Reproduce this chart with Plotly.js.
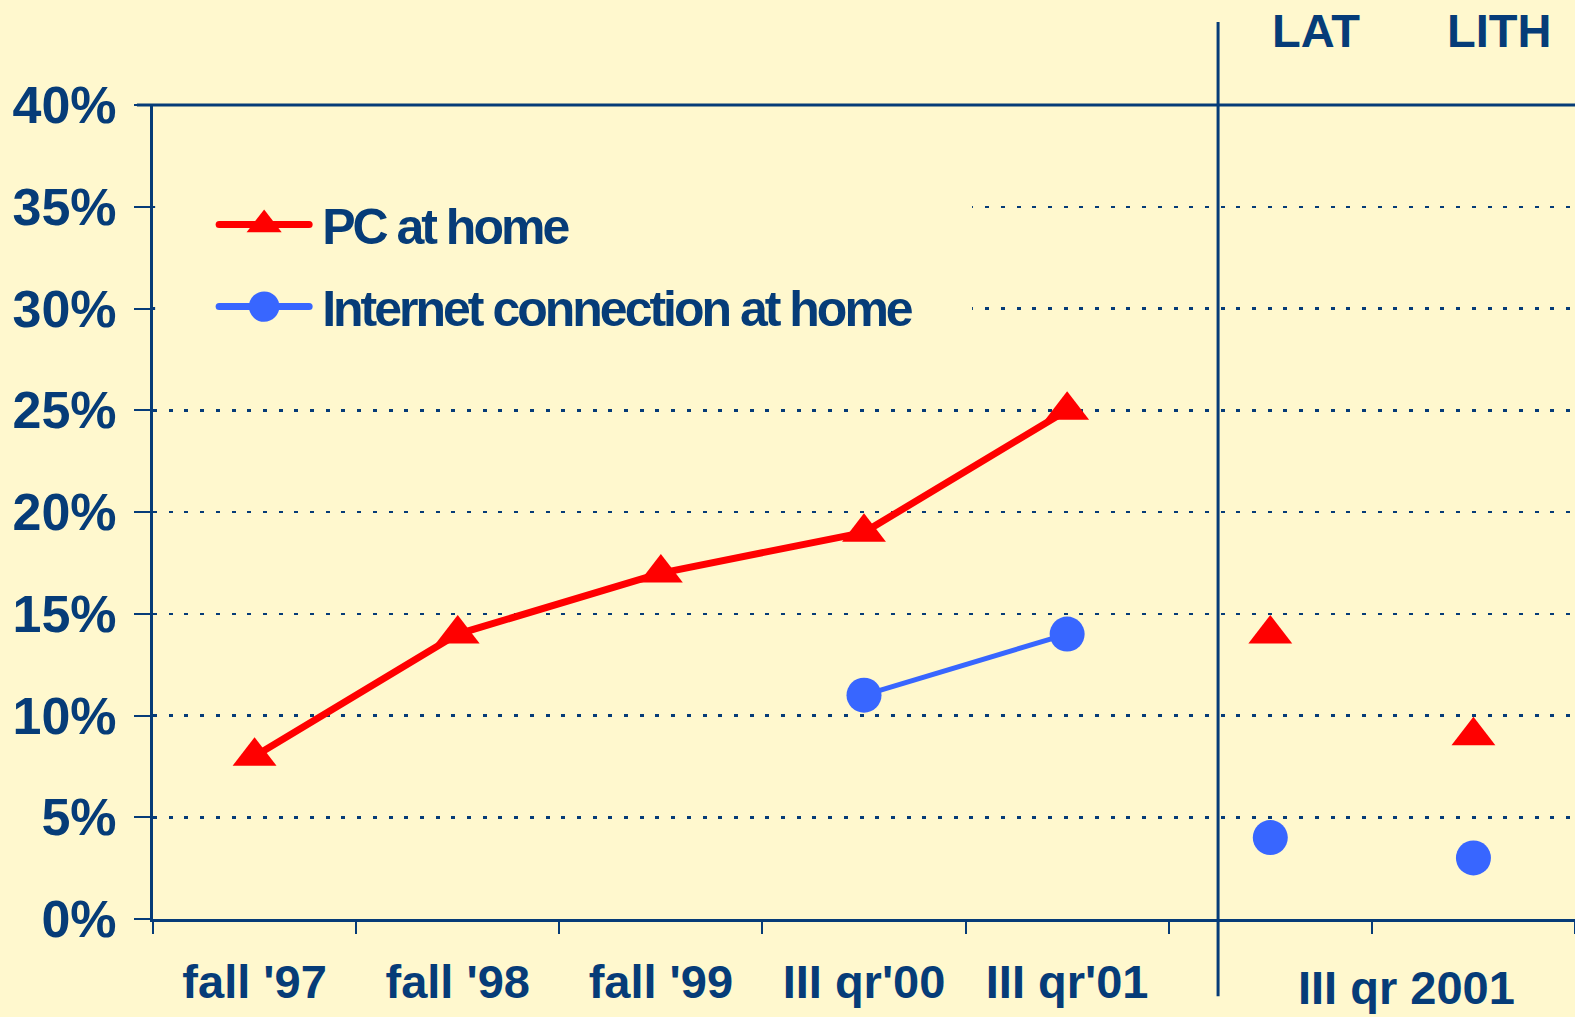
<!DOCTYPE html>
<html><head><meta charset="utf-8">
<script src="https://cdn.plot.ly/plotly-3.0.1.min.js"></script>
<style>
html,body{margin:0;padding:0;background:#FFF8CE;}
#chart{width:1575px;height:1017px;}
.legendtext{letter-spacing:-3px; transform: translateX(8px);}
.legend .legendlines path{stroke-width:7px !important; stroke-linecap:round;}
</style></head><body><div id="chart"></div>
<script>
// ---- data ----
const periods = ["fall '97", "fall '98", "fall '99", "III qr'00", "III qr'01"];
const countries = ["LAT", "LITH"];
const pcAtHome = [0.08, 0.14, 0.17, 0.19, 0.25];
const internetAtHome = [null, null, null, 0.11, 0.14];
const pcAtHomeCountry = [0.14, 0.09];
const internetAtHomeCountry = [0.04, 0.03];
const countryPeriodLabel = "III qr 2001";
const yTickVals = [0, 0.05, 0.10, 0.15, 0.20, 0.25, 0.30, 0.35, 0.40];
const seriesNames = ["PC at home", "Internet connection at home"];

// ---- style ----
const BG = '#FFF8CE';
const NAVY = '#063C78';
const RED = '#FF0000';
const BLUE = '#3866FF';
const FONT = 'Liberation Sans, Arial, sans-serif';

const allCats = periods.concat(countries);

const traces = [
  {
    x: periods, y: pcAtHome, name: seriesNames[0], legendgroup: 'pc',
    type: 'scatter', mode: 'lines+markers',
    line: {color: RED, width: 7},
    marker: {symbol: 'triangle-up', size: 38, color: RED},
    cliponaxis: false
  },
  {
    x: periods, y: internetAtHome, name: seriesNames[1], legendgroup: 'net',
    type: 'scatter', mode: 'lines+markers', connectgaps: false,
    line: {color: BLUE, width: 5},
    marker: {symbol: 'circle', size: 35, color: BLUE},
    cliponaxis: false
  },
  {
    x: countries, y: pcAtHomeCountry, name: seriesNames[0], legendgroup: 'pc',
    showlegend: false, type: 'scatter', mode: 'markers',
    marker: {symbol: 'triangle-up', size: 38, color: RED}
  },
  {
    x: countries, y: internetAtHomeCountry, name: seriesNames[1], legendgroup: 'net',
    showlegend: false, type: 'scatter', mode: 'markers',
    marker: {symbol: 'circle', size: 35, color: BLUE}
  }
];

const layout = {
  width: 1575, height: 1017,
  paper_bgcolor: BG, plot_bgcolor: BG,
  margin: {l: 153, r: 0, t: 105, b: 98, pad: 0},
  font: {family: FONT, color: NAVY, weight: 'bold'},
  showlegend: true,
  legend: {
    x: 0.043, y: 0.901, xanchor: 'left', yanchor: 'top',
    bgcolor: BG, borderwidth: 0,
    font: {family: FONT, size: 50, color: NAVY, weight: 'bold'},
    itemwidth: 90, tracegroupgap: 14, traceorder: 'grouped'
  },
  xaxis: {
    type: 'category', categoryorder: 'array', categoryarray: allCats,
    range: [-0.5, allCats.length - 0.5],
    tickmode: 'array', tickvals: allCats,
    ticktext: periods.concat(countries.map(() => '')),
    tickson: 'boundaries', ticks: 'outside', ticklen: 12, tickwidth: 2, tickcolor: NAVY,
    ticklabelstandoff: 20,
    showline: true, linewidth: 3, linecolor: NAVY,
    showgrid: false, zeroline: false,
    tickfont: {family: FONT, size: 47, color: NAVY, weight: 'bold'}
  },
  yaxis: {
    range: [0, 0.4], tickmode: 'array', tickvals: yTickVals, tickformat: '.0%',
    ticks: 'outside', ticklen: 16, tickwidth: 2, tickcolor: NAVY,
    ticklabelstandoff: 7,
    showline: true, linewidth: 3, linecolor: NAVY,
    showgrid: true, gridcolor: NAVY, gridwidth: 2.5, griddash: '4px,11.7px',
    zeroline: false,
    tickfont: {family: FONT, size: 52, color: NAVY, weight: 'bold'}
  },
  shapes: [
    // legend backdrop hiding grid behind the legend area
    {type: 'rect', xref: 'paper', yref: 'paper', x0: 0.0015, x1: 0.576, y0: 0.70, y1: 0.91,
     fillcolor: BG, line: {width: 0}, layer: 'above'},
    {type: 'line', xref: 'paper', yref: 'paper', x0: -0.0113, x1: 1, y0: 1, y1: 1,
     line: {color: NAVY, width: 3}, layer: 'above'},
    {type: 'line', xref: 'paper', yref: 'paper', x0: 0.749, x1: 0.749, y0: -0.095, y1: 1.102,
     line: {color: NAVY, width: 3}, layer: 'above'}
  ],
  annotations: [
    {text: countries[0], xref: 'paper', yref: 'paper', x: 0.8179, y: 1.0921,
     showarrow: false, xanchor: 'center', yanchor: 'middle',
     font: {family: FONT, size: 47, color: NAVY, weight: 'bold'}},
    {text: countries[1], xref: 'paper', yref: 'paper', x: 0.9466, y: 1.0921,
     showarrow: false, xanchor: 'center', yanchor: 'middle',
     font: {family: FONT, size: 47, color: NAVY, weight: 'bold'}},
    {text: countryPeriodLabel, xref: 'paper', yref: 'paper', x: 0.8812, y: -0.1192,
     showarrow: false, xanchor: 'center', yanchor: 'bottom',
     font: {family: FONT, size: 47, color: NAVY, weight: 'bold'}}
  ]
};

Plotly.newPlot('chart', traces, layout, {displayModeBar: false, staticPlot: true}).then(gd => {
  gd.querySelectorAll('.legend [clip-path]').forEach(e => e.removeAttribute('clip-path'));
  gd.querySelectorAll('.legend .legendpoints path.scatterpts').forEach(p => {
    const t = p.getAttribute('transform') || '';
    p.setAttribute('transform', t + ' scale(1.9)');
  });
});
</script></body></html>
